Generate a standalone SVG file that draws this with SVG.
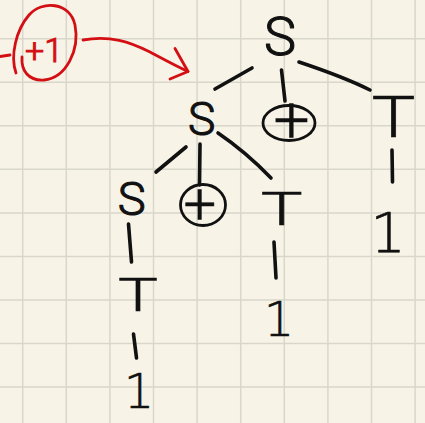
<svg xmlns="http://www.w3.org/2000/svg" width="425" height="423" viewBox="0 0 425 423">
  <style>
    .paper { fill: #f7f4e7; }
    .grid line { stroke: #d9d7cb; stroke-width: 1.5; }
    .sym { font-family: "Roboto", "DejaVu Sans", sans-serif; font-weight: 300; fill: #111; stroke: #111; stroke-width: 1.1; stroke-linejoin: round; text-anchor: middle; }
    .tee { font-family: "Roboto", "DejaVu Sans", sans-serif; font-weight: 300; fill: #111; stroke: #111; stroke-width: 0.5; text-anchor: middle; }
    .num { font-family: "DejaVu Sans", "Liberation Sans", sans-serif; font-weight: 300; fill: #111; stroke: #111; stroke-width: 0.6; stroke-linejoin: round; text-anchor: middle; }
    .edge { fill: none; stroke: #111; stroke-width: 3.6; stroke-linecap: round; }
    .ring { fill: none; stroke: #111; stroke-width: 2.8; }
    .note { fill: none; stroke: #d40f14; stroke-width: 2.8; stroke-linecap: round; stroke-linejoin: round; }
    .note-text { font-family: "Roboto", "DejaVu Sans", sans-serif; font-weight: 300; fill: #d40f14; stroke: #d40f14; stroke-width: 1; }
  </style>

  <!-- graph paper -->
  <rect class="paper" x="0" y="0" width="425" height="423"/>
  <g class="grid">
    <line x1="22.7" y1="0" x2="22.7" y2="423"/>
    <line x1="66.3" y1="0" x2="66.3" y2="423"/>
    <line x1="109.9" y1="0" x2="109.9" y2="423"/>
    <line x1="153.5" y1="0" x2="153.5" y2="423"/>
    <line x1="197.1" y1="0" x2="197.1" y2="423"/>
    <line x1="240.7" y1="0" x2="240.7" y2="423"/>
    <line x1="284.3" y1="0" x2="284.3" y2="423"/>
    <line x1="327.9" y1="0" x2="327.9" y2="423"/>
    <line x1="371.5" y1="0" x2="371.5" y2="423"/>
    <line x1="415.1" y1="0" x2="415.1" y2="423"/>
    <line x1="0" y1="38.7" x2="425" y2="38.7"/>
    <line x1="0" y1="82.2" x2="425" y2="82.2"/>
    <line x1="0" y1="125.8" x2="425" y2="125.8"/>
    <line x1="0" y1="169.3" x2="425" y2="169.3"/>
    <line x1="0" y1="212.9" x2="425" y2="212.9"/>
    <line x1="0" y1="256.4" x2="425" y2="256.4"/>
    <line x1="0" y1="300" x2="425" y2="300"/>
    <line x1="0" y1="343.5" x2="425" y2="343.5"/>
    <line x1="0" y1="387.1" x2="425" y2="387.1"/>
  </g>

  <!-- tree edges -->
  <g id="connectors">
    <path class="edge" d="M252 68 L215 89"/>
    <path class="edge" d="M281.5 70 L285 101"/>
    <path class="edge" d="M299 62 Q344 77 370 90"/>
    <path class="edge" d="M392 150 L392.5 182"/>
    <path class="edge" d="M186 147 L156 172"/>
    <path class="edge" d="M200 144 L199.5 185"/>
    <path class="edge" d="M218 133 Q246 152 271 178"/>
    <path class="edge" d="M274 242 L276 278"/>
    <path class="edge" d="M128.5 224 L131.5 262"/>
    <path class="edge" d="M133.5 334 L136.5 358"/>
  </g>

  <!-- nodes -->
  <g id="s-root"><text class="sym" x="280" y="55" font-size="54">S</text></g>
  <g id="plus-top">
    <ellipse class="ring" cx="289" cy="123" rx="26" ry="17.5"/>
    <text class="tee" x="291.5" y="142" font-size="64">+</text>
  </g>
  <g id="t-right"><text class="tee" x="393.5" y="137" font-size="58" textLength="44" lengthAdjust="spacingAndGlyphs">T</text></g>
  <g id="one-right"><text class="num" x="388" y="252" font-size="56">1</text></g>

  <g id="s-mid"><text class="sym" x="201.7" y="135" font-size="46">S</text></g>
  <g id="plus-mid">
    <ellipse class="ring" cx="203" cy="205" rx="22.5" ry="20.5"/>
    <text class="tee" x="200" y="223.5" font-size="58">+</text>
  </g>
  <g id="t-mid"><text class="tee" x="281.7" y="225" font-size="47" textLength="42" lengthAdjust="spacingAndGlyphs">T</text></g>
  <g id="one-mid"><text class="num" x="279" y="336" font-size="48">1</text></g>

  <g id="s-left"><text class="sym" x="131.7" y="215" font-size="47">S</text></g>
  <g id="t-left"><text class="tee" x="138" y="311" font-size="46" textLength="40" lengthAdjust="spacingAndGlyphs">T</text></g>
  <g id="one-left"><text class="num" x="139" y="408" font-size="48">1</text></g>

  <!-- red annotation -->
  <g id="note">
    <path class="note" d="M0 56.5 L10 55"/>
    <path class="note" d="M16 73 C10 56 16 30 29 15 C42 0 70 2 75 25 C80 50 66 78 44 80 C28 81 21 70 22 57"/>
    <text class="note-text" x="25" y="62" font-size="34">+1</text>
    <path class="note" d="M83 40 C110 35 130 42 150 52 C165 60 176 66 188 71.5"/>
    <path class="note" d="M175 48.5 L188 71.5 L170 79"/>
  </g>
</svg>
